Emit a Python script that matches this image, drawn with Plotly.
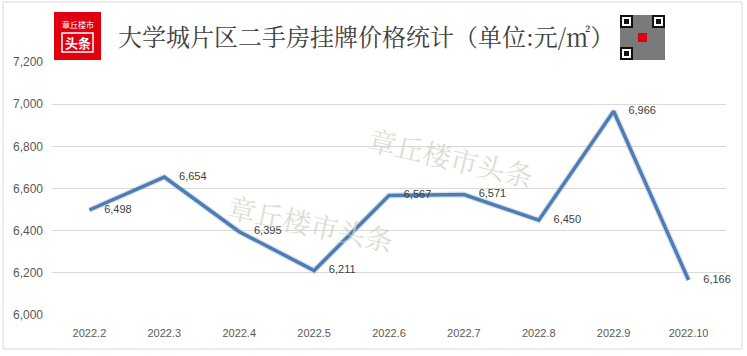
import plotly.graph_objects as go

months = ["2022.2", "2022.3", "2022.4", "2022.5", "2022.6", "2022.7", "2022.8", "2022.9", "2022.10"]
prices = [6498, 6654, 6395, 6211, 6567, 6571, 6450, 6966, 6166]
y_ticks = [6000, 6200, 6400, 6600, 6800, 7000, 7200]
title_text = "大学城片区二手房挂牌价格统计（单位:元/㎡）"
watermark = "章丘楼市头条"

W, H = 747, 356
L, R, T, B = 52, 726, 62, 315

def px(x):
    return (x - L) / (R - L)

def py(y):
    return (B - y) / (B - T)

fig = go.Figure()
fig.add_trace(go.Scatter(
    x=months, y=prices, mode="lines",
    line=dict(color="rgba(120,120,120,0.22)", width=6),
    hoverinfo="skip", showlegend=False,
))
fig.add_trace(go.Scatter(
    x=months, y=prices, mode="lines+markers+text",
    line=dict(color="#4A7EBB", width=3.5),
    marker=dict(size=22, color="rgba(0,0,0,0)"),
    text=[f"{v:,}" for v in prices],
    textposition="middle right",
    textfont=dict(family="Liberation Sans, Arial", size=11, color="#404040"),
    cliponaxis=False,
    showlegend=False,
))

shapes = []
annotations = []
# outer border
shapes.append(dict(type="rect", xref="paper", yref="paper",
                   x0=px(3), x1=px(742), y0=py(349), y1=py(2),
                   line=dict(color="#D9D9D9", width=1), fillcolor="rgba(0,0,0,0)", layer="below"))
# logo
shapes.append(dict(type="rect", xref="paper", yref="paper",
                   x0=px(54), x1=px(101), y0=py(60), y1=py(12),
                   line=dict(width=0), fillcolor="#E00010"))
shapes.append(dict(type="rect", xref="paper", yref="paper",
                   x0=px(62), x1=px(93), y0=py(52), y1=py(33),
                   line=dict(color="white", width=1.5), fillcolor="rgba(0,0,0,0)"))
annotations.append(dict(text="章丘楼市", xref="paper", yref="paper", x=px(77.5), y=py(25),
                        xanchor="center", yanchor="middle",
                        showarrow=False, font=dict(family="Noto Sans CJK SC", size=8, color="white")))
annotations.append(dict(text="<b>头条</b>", xref="paper", yref="paper", x=px(77.5), y=py(42.5),
                        xanchor="center", yanchor="middle",
                        showarrow=False, font=dict(family="Noto Sans CJK SC", size=13, color="white")))
# QR code approximation
shapes.append(dict(type="rect", xref="paper", yref="paper",
                   x0=px(620), x1=px(665), y0=py(60), y1=py(15),
                   line=dict(width=0), fillcolor="#7A7A7A"))
for (qx, qy) in [(620, 15), (652, 15), (620, 47)]:
    shapes.append(dict(type="rect", xref="paper", yref="paper",
                       x0=px(qx), x1=px(qx + 13), y0=py(qy + 13), y1=py(qy),
                       line=dict(width=0), fillcolor="#111111"))
    shapes.append(dict(type="rect", xref="paper", yref="paper",
                       x0=px(qx + 2), x1=px(qx + 11), y0=py(qy + 11), y1=py(qy + 2),
                       line=dict(width=0), fillcolor="white"))
    shapes.append(dict(type="rect", xref="paper", yref="paper",
                       x0=px(qx + 4), x1=px(qx + 9), y0=py(qy + 9), y1=py(qy + 4),
                       line=dict(width=0), fillcolor="#111111"))
shapes.append(dict(type="rect", xref="paper", yref="paper",
                   x0=px(638), x1=px(647), y0=py(42), y1=py(33),
                   line=dict(width=0), fillcolor="#E00010"))

# title
annotations.append(dict(text=title_text, xref="paper", yref="paper", x=px(116), y=py(36),
                        xanchor="left", yanchor="middle", showarrow=False,
                        font=dict(family="Noto Serif CJK SC, Noto Sans CJK SC", size=24, color="#404040")))
# watermarks
wm_font = dict(family="Noto Serif CJK SC, Noto Sans CJK SC", size=28, color="rgba(205,212,195,0.75)")
annotations.append(dict(text=watermark, xref="paper", yref="paper", x=px(451), y=py(157),
                        showarrow=False, textangle=13, font=wm_font))
annotations.append(dict(text=watermark, xref="paper", yref="paper", x=px(311), y=py(262),
                        showarrow=False, textangle=12, font=wm_font))

fig.update_layout(
    width=W, height=H,
    margin=dict(l=L, r=W - R, t=T, b=H - B, pad=0),
    paper_bgcolor="white", plot_bgcolor="white",
    shapes=shapes, annotations=annotations,
    xaxis=dict(range=[-0.5, len(months) - 0.5], showgrid=False, showline=False, ticks="",
               ticklabelstandoff=10,
               tickfont=dict(family="Liberation Sans, Arial", size=11, color="#595959")),
    yaxis=dict(range=[6000, 7200], tickvals=y_ticks, ticktext=[f"{v:,}" for v in y_ticks],
               showgrid=True, gridcolor="#D9D9D9", gridwidth=1, zeroline=False,
               showline=False, ticks="", ticklabelstandoff=8,
               tickfont=dict(family="Liberation Sans, Arial", size=12, color="#595959")),
)
fig.write_html("out.html", config={"displayModeBar": False},
               post_script="document.body.style.margin='0';")
